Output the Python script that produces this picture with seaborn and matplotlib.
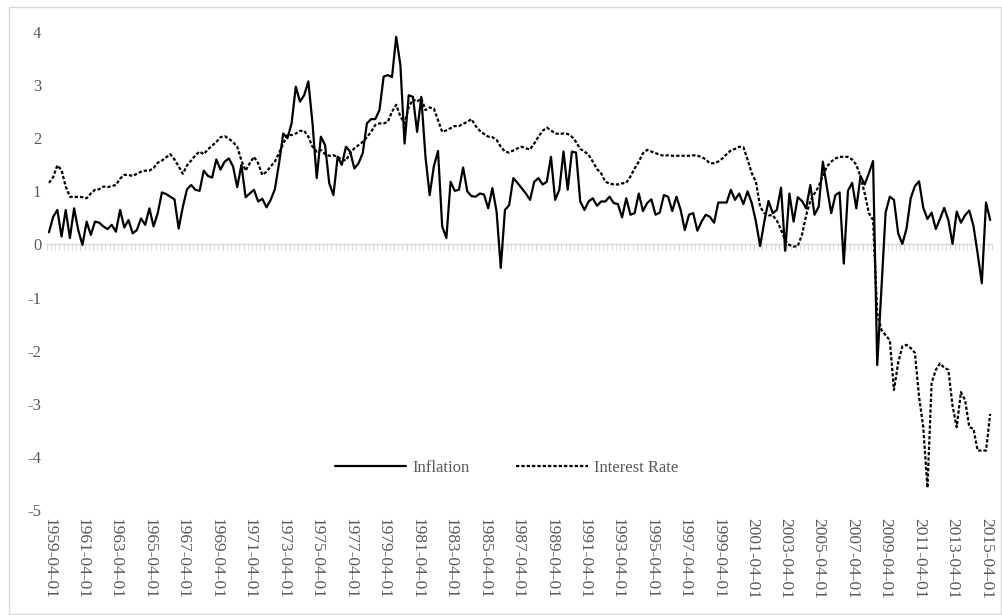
import numpy as np
import pandas as pd
import matplotlib.pyplot as plt
import seaborn as sns
from matplotlib.patches import Rectangle

# Quarterly observations, 1959-04-01 .. 2015-07-01
dates = pd.date_range('1959-04-01', periods=226, freq='QS-JAN')

inflation = [
    0.23, 0.52, 0.65, 0.15, 0.65, 0.12, 0.68, 0.27, -0.01, 0.43,
    0.18, 0.43, 0.41, 0.34, 0.29, 0.37, 0.24, 0.65, 0.32, 0.46,
    0.21, 0.27, 0.49, 0.37, 0.68, 0.34, 0.59, 0.98, 0.95, 0.90,
    0.85, 0.30, 0.71, 1.04, 1.12, 1.03, 1.01, 1.39, 1.29, 1.26,
    1.60, 1.41, 1.56, 1.62, 1.47, 1.08, 1.50, 0.89, 0.96, 1.03,
    0.81, 0.86, 0.70, 0.84, 1.04, 1.53, 2.09, 2.00, 2.28, 2.97,
    2.69, 2.81, 3.07, 2.28, 1.25, 2.03, 1.87, 1.15, 0.93, 1.65,
    1.50, 1.84, 1.75, 1.43, 1.53, 1.72, 2.28, 2.36, 2.36, 2.53,
    3.16, 3.19, 3.15, 3.91, 3.38, 1.90, 2.81, 2.78, 2.12, 2.78,
    1.65, 0.93, 1.47, 1.76, 0.34, 0.12, 1.18, 1.01, 1.03, 1.45,
    1.00, 0.91, 0.90, 0.96, 0.94, 0.68, 1.06, 0.62, -0.44, 0.65,
    0.74, 1.25, 1.16, 1.06, 0.96, 0.84, 1.18, 1.25, 1.13, 1.18,
    1.65, 0.84, 1.03, 1.75, 1.03, 1.75, 1.73, 0.81, 0.65, 0.81,
    0.87, 0.73, 0.81, 0.81, 0.90, 0.78, 0.76, 0.51, 0.87, 0.56,
    0.59, 0.96, 0.63, 0.78, 0.85, 0.56, 0.60, 0.93, 0.90, 0.63,
    0.90, 0.65, 0.27, 0.56, 0.59, 0.26, 0.43, 0.56, 0.52, 0.41,
    0.79, 0.79, 0.79, 1.03, 0.84, 0.96, 0.76, 1.00, 0.78, 0.43,
    -0.03, 0.43, 0.82, 0.59, 0.65, 1.07, -0.12, 0.96, 0.43, 0.89,
    0.82, 0.68, 1.12, 0.56, 0.71, 1.56, 1.06, 0.59, 0.93, 0.98,
    -0.36, 1.01, 1.16, 0.68, 1.29, 1.13, 1.34, 1.57, -2.27, -0.85,
    0.60, 0.90, 0.84, 0.21, 0.01, 0.30, 0.87, 1.10, 1.19, 0.69,
    0.48, 0.60, 0.29, 0.48, 0.69, 0.46, 0.01, 0.62, 0.41, 0.55,
    0.64, 0.35, -0.17, -0.73, 0.79, 0.46,
]

interest_rate = [
    1.16, 1.27, 1.49, 1.40, 1.09, 0.90, 0.89, 0.90, 0.89, 0.87,
    0.96, 1.03, 1.04, 1.09, 1.08, 1.10, 1.12, 1.24, 1.31, 1.31,
    1.29, 1.33, 1.37, 1.39, 1.39, 1.44, 1.54, 1.58, 1.64, 1.70,
    1.60, 1.47, 1.33, 1.49, 1.58, 1.68, 1.75, 1.70, 1.79, 1.86,
    1.93, 2.02, 2.04, 1.99, 1.93, 1.84, 1.58, 1.39, 1.53, 1.65,
    1.53, 1.31, 1.37, 1.47, 1.56, 1.72, 1.90, 2.06, 2.06, 2.09,
    2.14, 2.14, 2.03, 1.84, 1.75, 1.78, 1.70, 1.67, 1.68, 1.65,
    1.60, 1.58, 1.72, 1.81, 1.87, 1.93, 2.02, 2.12, 2.25, 2.28,
    2.28, 2.31, 2.50, 2.63, 2.41, 2.28, 2.59, 2.73, 2.69, 2.75,
    2.53, 2.58, 2.56, 2.34, 2.12, 2.15, 2.19, 2.23, 2.23, 2.27,
    2.31, 2.36, 2.23, 2.14, 2.08, 2.03, 2.02, 1.97, 1.84, 1.75,
    1.73, 1.77, 1.81, 1.84, 1.81, 1.79, 1.90, 2.03, 2.14, 2.20,
    2.15, 2.09, 2.08, 2.09, 2.08, 2.03, 1.93, 1.80, 1.75, 1.69,
    1.56, 1.42, 1.34, 1.18, 1.15, 1.13, 1.13, 1.15, 1.16, 1.28,
    1.43, 1.56, 1.72, 1.78, 1.75, 1.72, 1.69, 1.67, 1.68, 1.67,
    1.67, 1.67, 1.67, 1.67, 1.68, 1.67, 1.65, 1.60, 1.53, 1.53,
    1.56, 1.62, 1.70, 1.77, 1.80, 1.84, 1.83, 1.60, 1.34, 1.18,
    0.71, 0.59, 0.55, 0.55, 0.45, 0.28, 0.08, -0.01, -0.04, -0.03,
    0.18, 0.55, 0.82, 0.96, 1.09, 1.30, 1.47, 1.56, 1.62, 1.65,
    1.65, 1.65, 1.60, 1.50, 1.28, 0.96, 0.59, 0.46, -1.30, -1.61,
    -1.71, -1.80, -2.74, -2.23, -1.92, -1.89, -1.95, -2.04, -2.87, -3.44,
    -4.58, -2.61, -2.36, -2.24, -2.32, -2.36, -3.04, -3.44, -2.78, -2.93,
    -3.44, -3.47, -3.88, -3.88, -3.88, -3.19,
]

series_names = ['Inflation', 'Interest Rate']
y_ticks = [-5, -4, -3, -2, -1, 0, 1, 2, 3, 4]

labels = dates.strftime('%Y-%m-%d')
df = pd.DataFrame({'pos': np.arange(len(dates)),
                   'Inflation': inflation,
                   'Interest Rate': interest_rate})
long_df = df.melt(id_vars='pos', value_vars=series_names,
                  var_name='series', value_name='value')

sns.set_theme(style='white')
plt.rcParams['font.family'] = ['Liberation Serif', 'DejaVu Serif']
grey_text = '#595959'
grey_line = '#d9d9d9'

fig = plt.figure(figsize=(10.02, 6.15), dpi=100)
ax = fig.add_axes([0.0468, 0.1707, 0.9435, 0.7772])

sns.lineplot(data=long_df, x='pos', y='value', hue='series', style='series',
             palette=['black', 'black'],
             dashes={'Inflation': '', 'Interest Rate': (1.5, 0.9)},
             linewidth=1.6, ax=ax)

ax.set_xlim(-0.5, len(dates) - 0.5)
ax.set_ylim(-5, 4)
ax.set_yticks(y_ticks)
ax.set_yticklabels([str(v) for v in y_ticks])
ax.set_xticks(df['pos'][::8])
ax.set_xticklabels(labels[::8], rotation=-90)
ax.set_xlabel('')
ax.set_ylabel('')
ax.tick_params(axis='x', length=0, pad=6, labelsize=12.5, labelcolor=grey_text)
ax.tick_params(axis='y', length=0, pad=4, labelsize=12, labelcolor=grey_text)
for s in ax.spines.values():
    s.set_visible(False)

# category axis crossing at zero
zero_frac = (0 - (-5)) / (4 - (-5))
secax = ax.secondary_xaxis(zero_frac)
secax.set_alignment('bottom')
secax.set_xticks(np.arange(-0.5, len(dates), 1))
secax.tick_params(axis='x', length=4, width=0.8, color=grey_line,
                  direction='out', labelbottom=False)
secax.spines['bottom'].set_color(grey_line)
secax.spines['bottom'].set_linewidth(1)

handles, lbls = ax.get_legend_handles_labels()
ax.legend(handles, lbls, loc='center', bbox_to_anchor=(0.486, 0.088), ncol=2,
          frameon=False, handlelength=4.3, handletextpad=0.35,
          columnspacing=2.8, fontsize=12, labelcolor=grey_text)

fig.patches.append(Rectangle((9 / 1002, 1 - 614 / 615), 992 / 1002, 607 / 615,
                             transform=fig.transFigure, fill=False,
                             edgecolor=grey_line, linewidth=1))

fig.savefig('out.png', dpi=100)
